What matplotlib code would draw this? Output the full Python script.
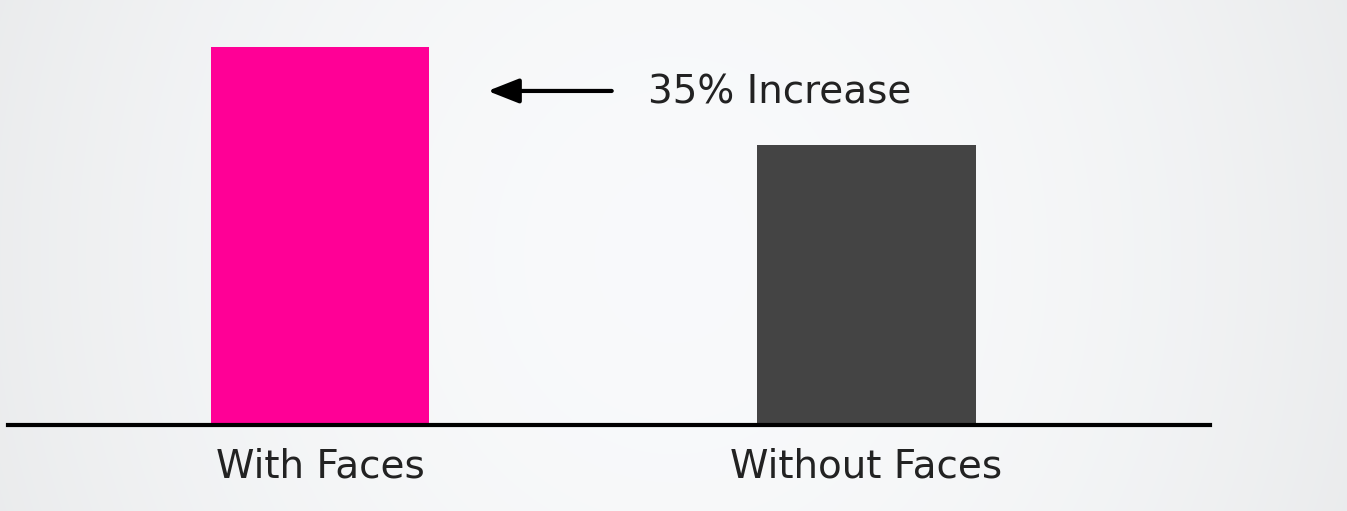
import numpy as np
import matplotlib.pyplot as plt

categories = ["With Faces", "Without Faces"]
values = [135, 100]
colors = ["#FF0096", "#444444"]
note = "35% Increase"

W, H = 1347, 511
fig = plt.figure(figsize=(W / 100, H / 100), dpi=100)

# soft background, lighter in the middle
bg = fig.add_axes([0, 0, 1, 1])
yy, xx = np.mgrid[0:H, 0:W]
r = np.sqrt(((xx - W * 0.5) / (W * 0.55))**2 + ((yy - H * 0.5) / (H * 1.6))**2)
shade = 0.985 - 0.06 * np.clip(r, 0, 1)**2
bg.imshow(np.dstack([shade - 0.01, shade - 0.005, shade]).clip(0, 1), aspect="auto", extent=[0, 1, 0, 1])
bg.axis("off")

x0, x1 = 8 / W, 1210 / W
ybase = (H - 425) / H
ax = fig.add_axes([x0, ybase, x1 - x0, 378 / H])
ax.patch.set_alpha(0)

pos = np.arange(len(categories))
ax.bar(pos, values, width=0.40, color=colors, zorder=2)
ax.set_xlim(-0.571, 1.629)
ax.set_ylim(0, 135)

for s in ["top", "right", "left"]:
    ax.spines[s].set_visible(False)
ax.spines["bottom"].set_linewidth(3)
ax.spines["bottom"].set_color("black")
ax.spines["bottom"].set_zorder(3)
ax.set_yticks([])
ax.set_xticks(pos)
ax.set_xticklabels(categories, fontsize=28, color="#222222")
ax.tick_params(axis="x", length=0, pad=16)

ax.annotate("", xy=(0.307, 119.3), xytext=(0.534, 119.3),
            arrowprops=dict(arrowstyle="-|>,head_length=1.9,head_width=0.75", color="black", lw=3,
                            shrinkA=0, shrinkB=0))
ax.text(0.600, 118.8, note, fontsize=28, color="#222222", va="center", ha="left")

fig.savefig("out.png", dpi=100)
